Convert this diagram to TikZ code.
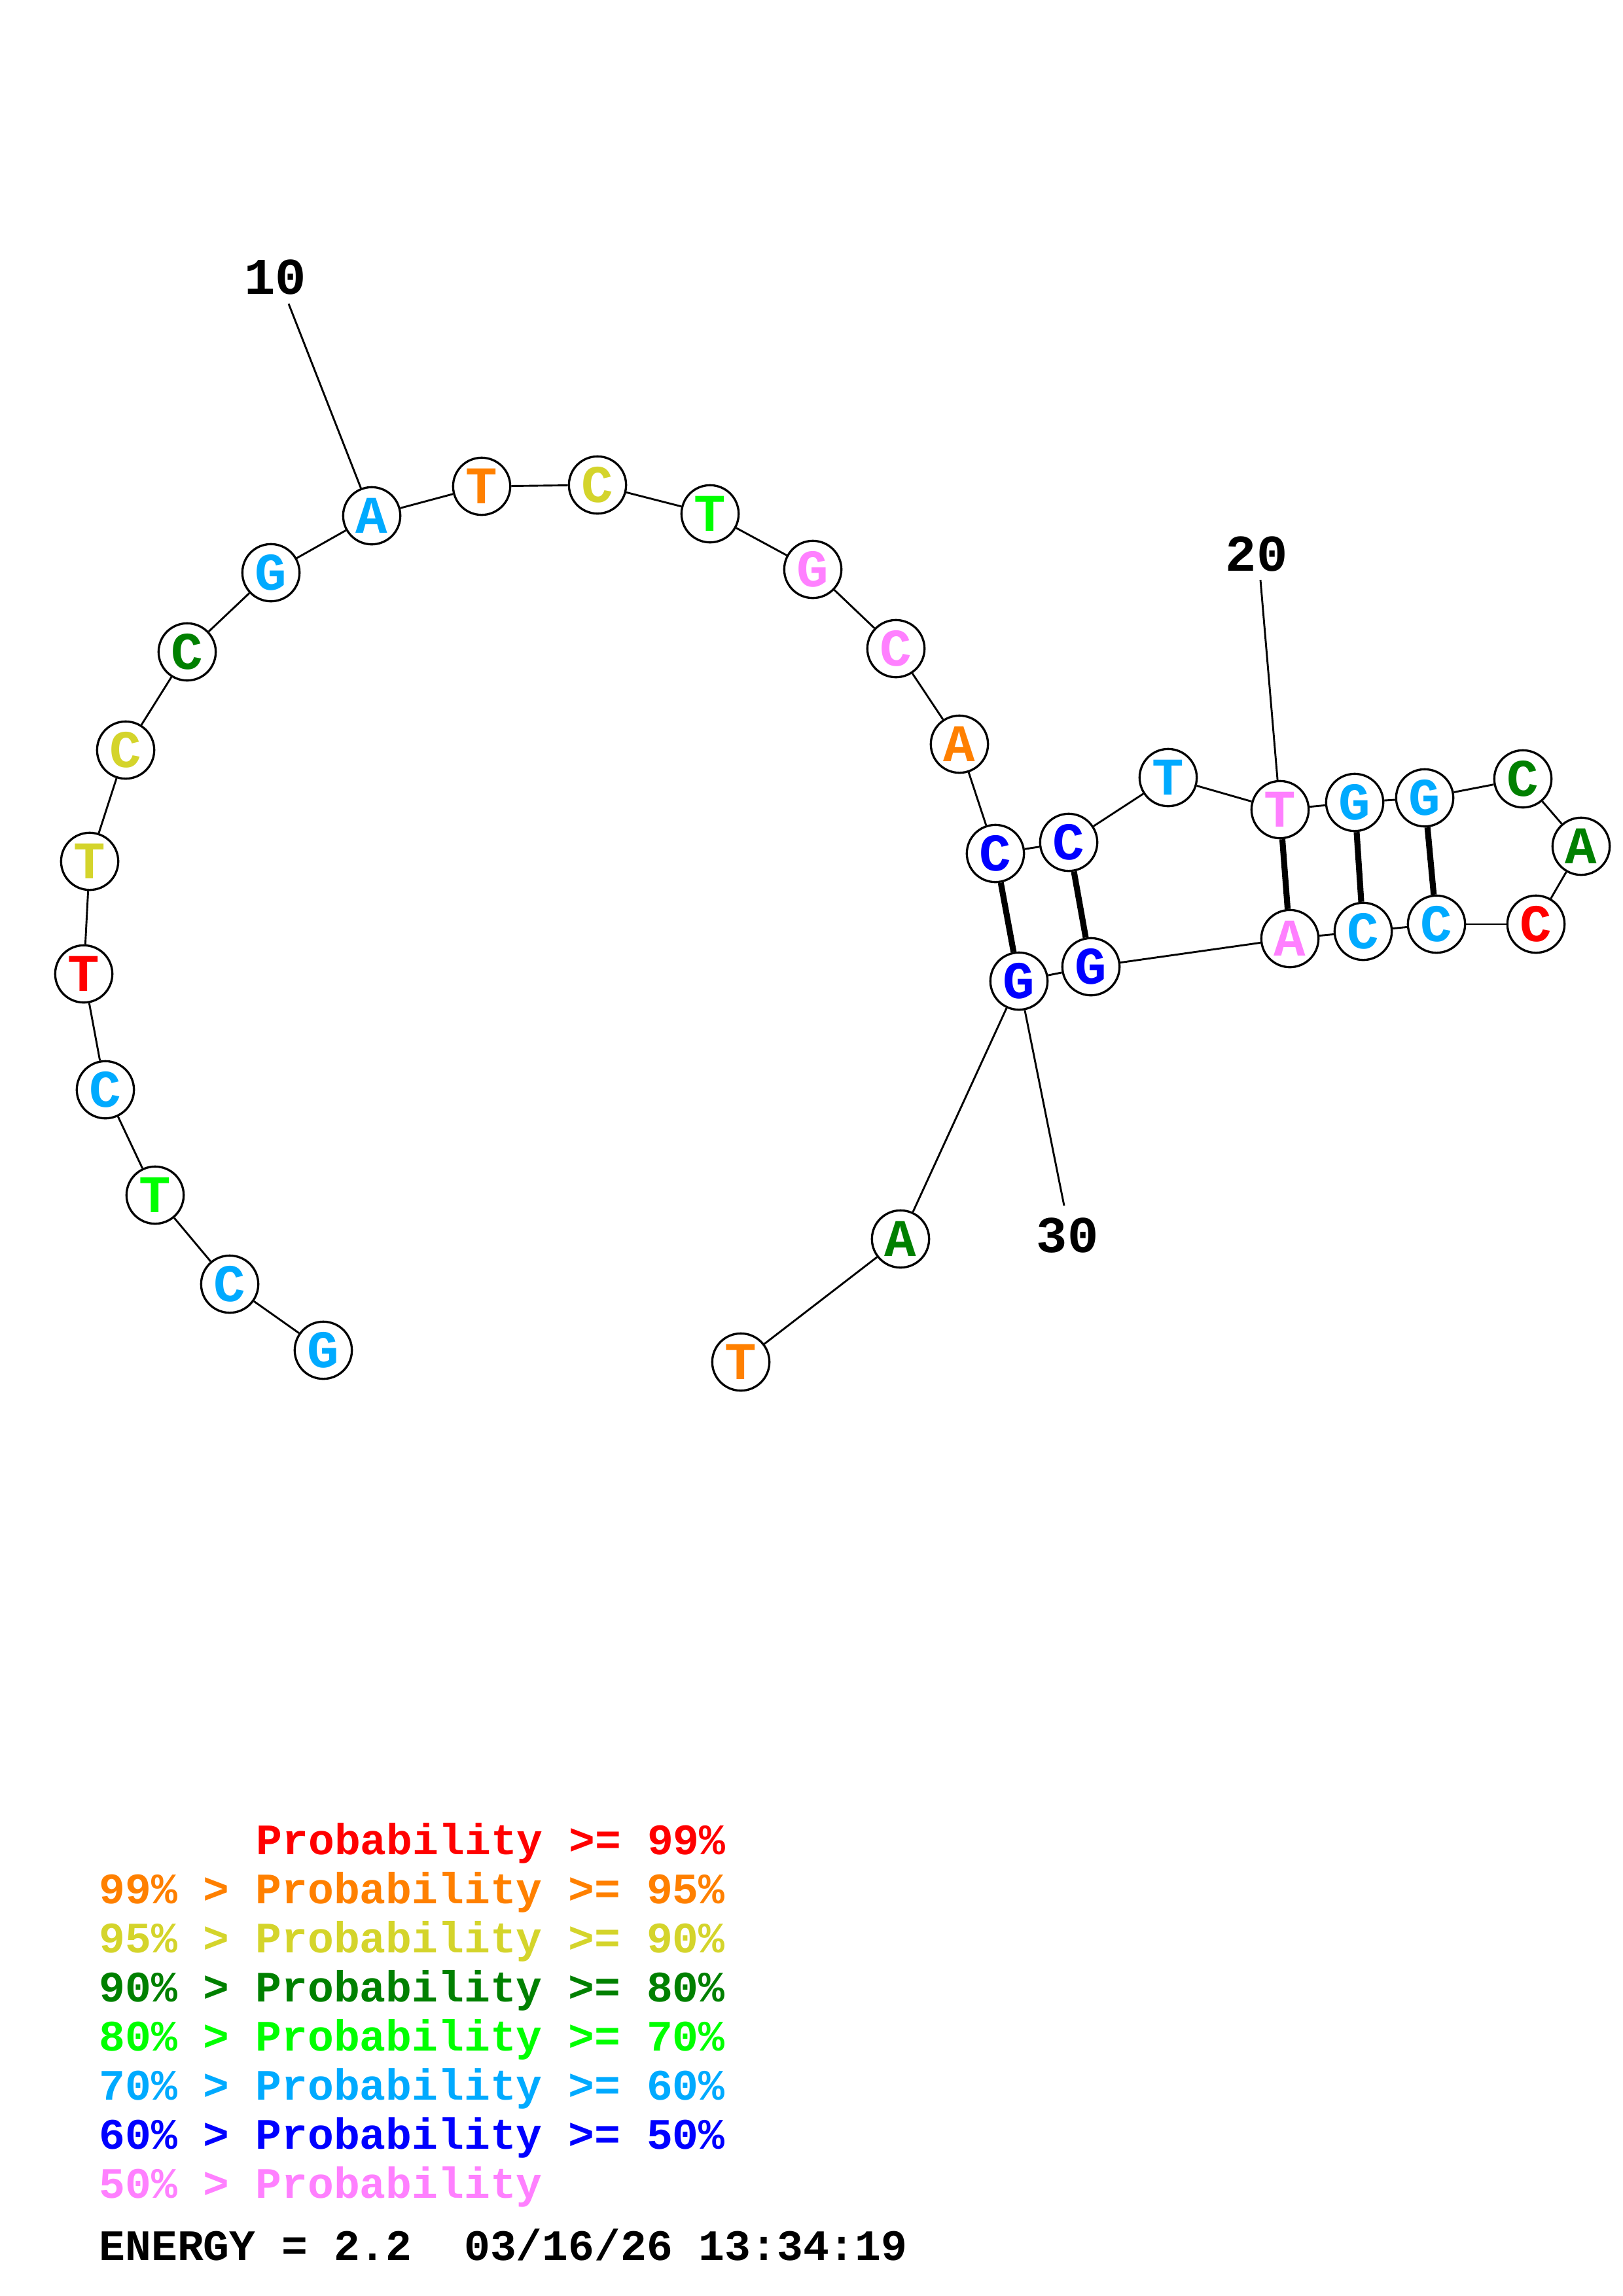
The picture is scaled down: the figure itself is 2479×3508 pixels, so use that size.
\documentclass[tikz,border=0pt]{standalone}
\usepackage{fontspec}
\setmainfont{Liberation Mono}
\usepackage{tikz}

\definecolor{prob99}{HTML}{FF0000}
\definecolor{prob95}{HTML}{FF8000}
\definecolor{prob90}{HTML}{D4D42B}
\definecolor{prob80}{HTML}{008000}
\definecolor{prob70}{HTML}{00FF00}
\definecolor{prob60}{HTML}{00AAFF}
\definecolor{prob50}{HTML}{0000FF}
\definecolor{problow}{HTML}{FF80FF}

\begin{document}
\begin{tikzpicture}[x=0.08471mm, y=-0.08471mm, every node/.style={circle, draw=black, fill=white, line width=0.8pt, minimum size=7.4mm, inner sep=0pt, font=\bfseries\fontsize{19.5}{19.5}\selectfont}]

	\tikzset{edge/.style = {line width=0.7pt}}
	\tikzset{pair/.style = {line width=2.2pt}}
	\tikzset{txt/.style = {rectangle, draw=none, fill=none, minimum size=0pt}}

	\useasboundingbox (0,0) rectangle (2479,3508);

	% strand, 5' end at bottom left
	\node[text=prob60] (1)  at (494,2063)  {G};
	\node[text=prob60] (2)  at (351,1962)  {C};
	\node[text=prob70] (3)  at (237,1826)  {T};
	\node[text=prob60] (4)  at (161,1665)  {C};
	\node[text=prob99] (5)  at (128,1488)  {T};
	\node[text=prob90] (6)  at (137,1316)  {T};
	\node[text=prob90] (7)  at (192,1146)  {C};
	\node[text=prob80] (8)  at (286,996)   {C};
	\node[text=prob60] (9)  at (414,875)   {G};
	\node[text=prob60] (10) at (568,788)   {A};
	\node[text=prob95] (11) at (736,743)   {T};
	\node[text=prob90] (12) at (913,741)   {C};
	\node[text=prob70] (13) at (1085,785)  {T};
	\node[text=problow] (14) at (1242,870) {G};
	\node[text=problow] (15) at (1369,991) {C};
	\node[text=prob95] (16) at (1466,1137) {A};
	\node[text=prob50] (17) at (1521,1304) {C};
	\node[text=prob50] (18) at (1633,1287) {C};
	\node[text=prob60] (19) at (1785,1188) {T};
	\node[text=problow] (20) at (1956,1237) {T};
	\node[text=prob60] (21) at (2070,1226) {G};
	\node[text=prob60] (22) at (2177,1219) {G};
	\node[text=prob80] (23) at (2327,1190) {C};
	\node[text=prob80] (24) at (2416,1293) {A};
	\node[text=prob99] (25) at (2347,1412) {C};
	\node[text=prob60] (26) at (2195,1412) {C};
	\node[text=prob60] (27) at (2083,1423) {C};
	\node[text=problow] (28) at (1971,1434) {A};
	\node[text=prob50] (29) at (1667,1477) {G};
	\node[text=prob50] (30) at (1557,1499) {G};
	\node[text=prob80] (31) at (1376,1893) {A};
	\node[text=prob95] (32) at (1132,2081) {T};

	% numbering
	\node[txt, font=\bfseries\fontsize{19}{19}\selectfont] (l10) at (421,424)  {10};
	\node[txt, font=\bfseries\fontsize{19}{19}\selectfont] (l20) at (1920,846) {20};
	\node[txt, font=\bfseries\fontsize{19}{19}\selectfont] (l30) at (1631,1888) {30};
	\coordinate (t10) at (441,464);
	\coordinate (t20) at (1926,886);
	\coordinate (t30) at (1626,1842);

	\foreach \source/\dest in {1/2,2/3,3/4,4/5,5/6,6/7,7/8,8/9,9/10,10/11,11/12,12/13,13/14,14/15,15/16,16/17,17/18,18/19,19/20,20/21,21/22,22/23,23/24,24/25,25/26,26/27,27/28,28/29,29/30,30/31,31/32,t10/10,t20/20,t30/30}
	\draw[edge] (\source) to (\dest);

	\foreach \source/\dest in {17/30,18/29,20/28,21/27,22/26}
	\draw[pair] (\source) to (\dest);

	% legend
	\node[txt, anchor=base west, text=prob99, font=\bfseries\fontsize{16}{16}\selectfont] (k1) at (390,2833) {Probability >= 99\%};
	\node[txt, anchor=base west, text=prob95, font=\bfseries\fontsize{16}{16}\selectfont] (k2) at (150,2908) {99\% > Probability >= 95\%};
	\node[txt, anchor=base west, text=prob90, font=\bfseries\fontsize{16}{16}\selectfont] (k3) at (150,2983) {95\% > Probability >= 90\%};
	\node[txt, anchor=base west, text=prob80, font=\bfseries\fontsize{16}{16}\selectfont] (k4) at (150,3058) {90\% > Probability >= 80\%};
	\node[txt, anchor=base west, text=prob70, font=\bfseries\fontsize{16}{16}\selectfont] (k5) at (150,3133) {80\% > Probability >= 70\%};
	\node[txt, anchor=base west, text=prob60, font=\bfseries\fontsize{16}{16}\selectfont] (k6) at (150,3208) {70\% > Probability >= 60\%};
	\node[txt, anchor=base west, text=prob50, font=\bfseries\fontsize{16}{16}\selectfont] (k7) at (150,3283) {60\% > Probability >= 50\%};
	\node[txt, anchor=base west, text=problow, font=\bfseries\fontsize{16}{16}\selectfont] (k8) at (150,3358) {50\% > Probability};
	\node[txt, anchor=base west, text=black, font=\bfseries\fontsize{16}{16}\selectfont] (energy) at (150,3453) {ENERGY = 2.2~~03/16/26 13:34:19};

\end{tikzpicture}
\end{document}
